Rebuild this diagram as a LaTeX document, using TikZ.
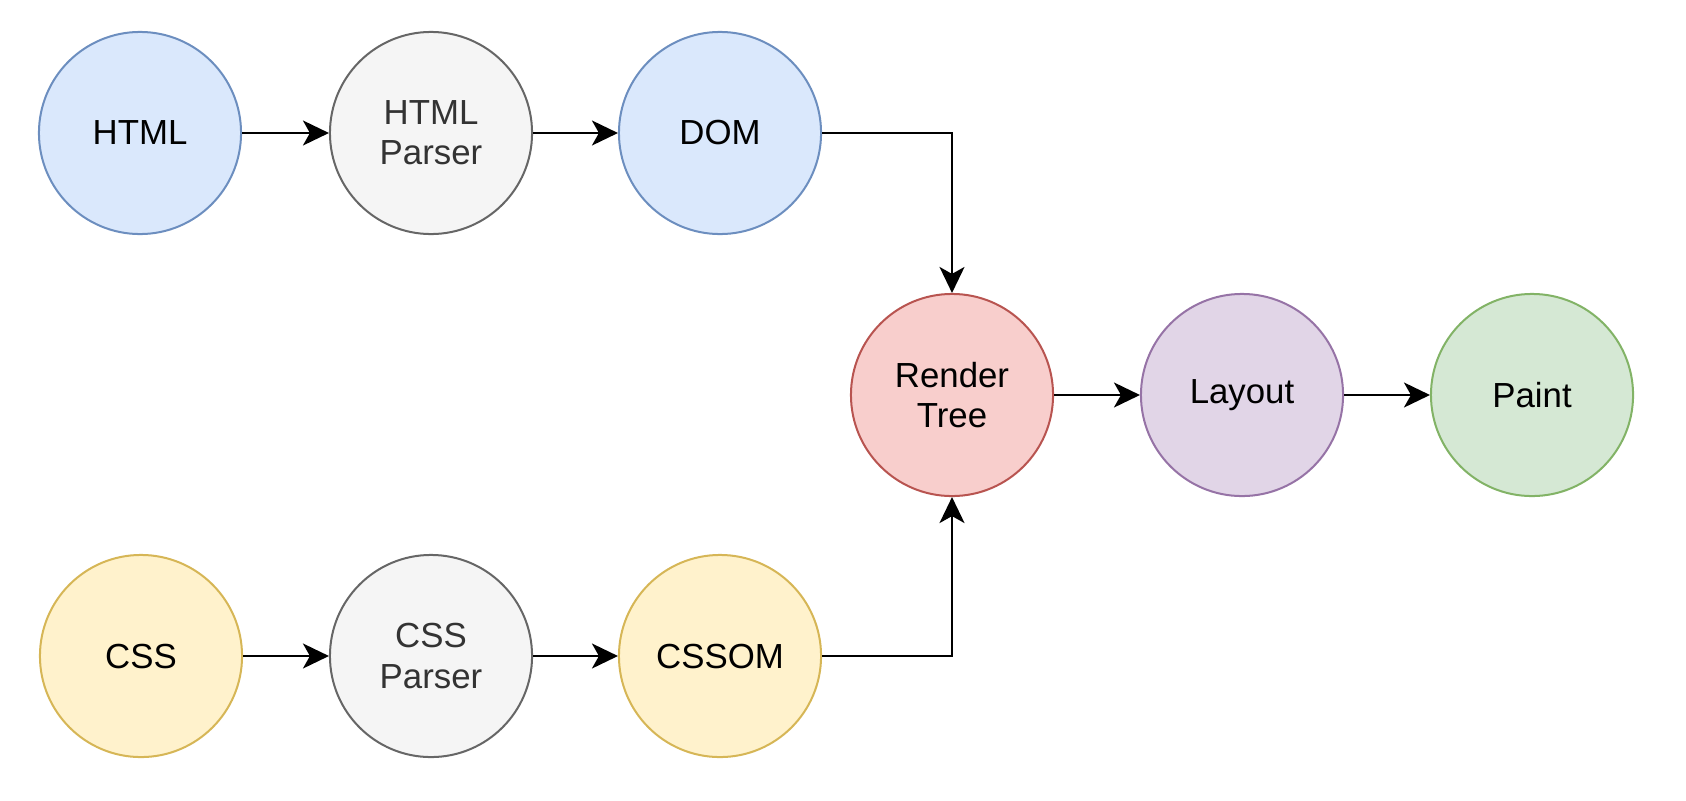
\documentclass[tikz,border=0pt]{standalone}
\usepackage{fontspec}
\setmainfont{Liberation Sans}
\usepackage{tikz}
\usetikzlibrary{arrows.meta}
\definecolor{blueF}{HTML}{DAE8FC}\definecolor{blueD}{HTML}{6C8EBF}
\definecolor{grayF}{HTML}{F5F5F5}\definecolor{grayD}{HTML}{666666}
\definecolor{grayT}{HTML}{333333}
\definecolor{yelF}{HTML}{FFF2CC}\definecolor{yelD}{HTML}{D6B656}
\definecolor{redF}{HTML}{F8CECC}\definecolor{redD}{HTML}{B85450}
\definecolor{purF}{HTML}{E1D5E7}\definecolor{purD}{HTML}{9673A6}
\definecolor{grnF}{HTML}{D5E8D4}\definecolor{grnD}{HTML}{82B366}
\tikzstyle{stage} = [circle,minimum size=2.02cm,inner sep=0,line width=0.02cm,align=center,font=\fontsize{9.9}{11.4}\selectfont]
\tikzstyle{src} = [stage,draw=blueD,fill=blueF]
\tikzstyle{tool} = [stage,draw=grayD,fill=grayF,text=grayT]
\tikzstyle{sty} = [stage,draw=yelD,fill=yelF]

\begin{document}
\begin{tikzpicture}[x=0.01cm,y=-0.01cm,post/.style={-{Stealth[length=0.26cm,width=0.25cm,inset=0.07cm]},line width=0.022cm}]
    \useasboundingbox (0,0) rectangle (1686,800);

    \node[src] (html) at (140,133) {HTML};
    \node[tool] (hp) at (431,133) {HTML\\Parser};
    \node[src] (dom) at (720,133) {DOM};

    \node[sty] (css) at (141,656) {CSS};
    \node[tool] (cp) at (431,656) {CSS\\Parser};
    \node[sty] (cssom) at (720,656) {CSSOM};

    \node[stage,draw=redD,fill=redF] (rt) at (952,395) {Render\\Tree};
    \node[stage,draw=purD,fill=purF] (lay) at (1242,395) {Layout};
    \node[stage,draw=grnD,fill=grnF] (paint) at (1532,395) {Paint};

    \draw[post] (html) -- (hp);
    \draw[post] (hp) -- (dom);
    \draw[post] (dom) -| (rt);

    \draw[post] (css) -- (cp);
    \draw[post] (cp) -- (cssom);
    \draw[post] (cssom) -| (rt);

    \draw[post] (rt) -- (lay);
    \draw[post] (lay) -- (paint);

\end{tikzpicture}
\end{document}
